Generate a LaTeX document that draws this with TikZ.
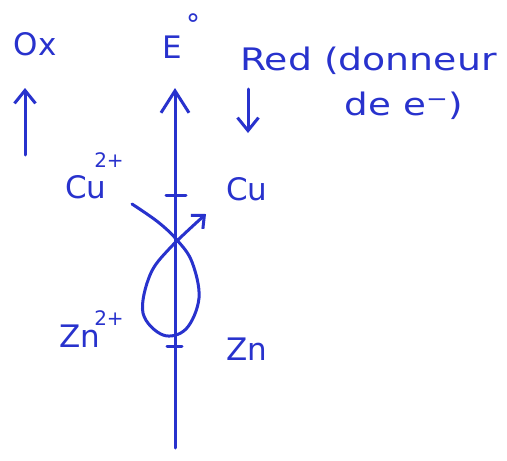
\documentclass[tikz,border=0pt]{standalone}
\usepackage{fontspec}
\setmainfont{DejaVu Sans}
\usetikzlibrary{arrows.meta}
\definecolor{ink}{RGB}{40,50,205}
\tikzset{
  pen/.style={draw=ink, line width=3pt, line cap=round, line join=round},
  lbl/.style={text=ink, inner sep=0pt, font=\fontsize{31}{33}\selectfont},
  sup/.style={text=ink, inner sep=0pt, font=\fontsize{20}{22}\selectfont},
  bigbarb/.style={-{Straight Barb[length=22pt,width=28pt,line width=3pt]}},
  smallbarb/.style={-{Straight Barb[length=13pt,width=21pt,line width=3pt]}}
}
\begin{document}
\begin{tikzpicture}[x=1pt,y=-1pt]
\useasboundingbox[fill=white] (0,0) rectangle (507,461);
% labels
\node[lbl] (ox) at (35,44) {Ox};
\node[lbl] (e) at (172,47) {E};
\node[sup] (deg) at (193,24) {\fontsize{28}{30}\selectfont °};
\node[lbl, anchor=west] (red) at (240,61) {\scalebox{1.22}[1]{Red (donneur}};
\node[lbl] (dee) at (404,106) {\scalebox{1.2}[1]{de e\textsuperscript{−})}};
% left arrow
\coordinate (oxb) at (25,155);
\coordinate (oxt) at (25,88);
\draw[pen, smallbarb] (oxb) -- (oxt);
% red arrow
\coordinate (rt) at (248,89);
\coordinate (rb) at (248,133);
\draw[pen, smallbarb] (rt) -- (rb);
% main axis
\coordinate (ab) at (175,448);
\coordinate (at) at (175,88);
\draw[pen, bigbarb] (ab) -- (at);
% ticks
\coordinate (t1l) at (166,195); \coordinate (t1r) at (186,195);
\coordinate (t2l) at (167,346); \coordinate (t2r) at (182,346);
\draw[pen] (t1l) -- (t1r);
\draw[pen] (t2l) -- (t2r);
% species labels
\node[lbl] (cu2) at (86,187) {Cu};
\node[sup] (cu2s) at (109,160) {2+};
\node[lbl] (cu) at (247,189) {Cu};
\node[lbl] (zn2) at (80,336) {Zn};
\node[sup] (zn2s) at (109,318) {2+};
\node[lbl] (zn) at (247,349) {Zn};
% loop
\draw[pen, -{Straight Barb[length=10pt,width=18pt,line width=3pt]}] plot[smooth, tension=0.6] coordinates
 {(132,204) (158,222) (177,240) (192,262) (199,298) (186,329) (163,335) (143,313) (150,275) (170,248) (206,214)};
\end{tikzpicture}
\end{document}
